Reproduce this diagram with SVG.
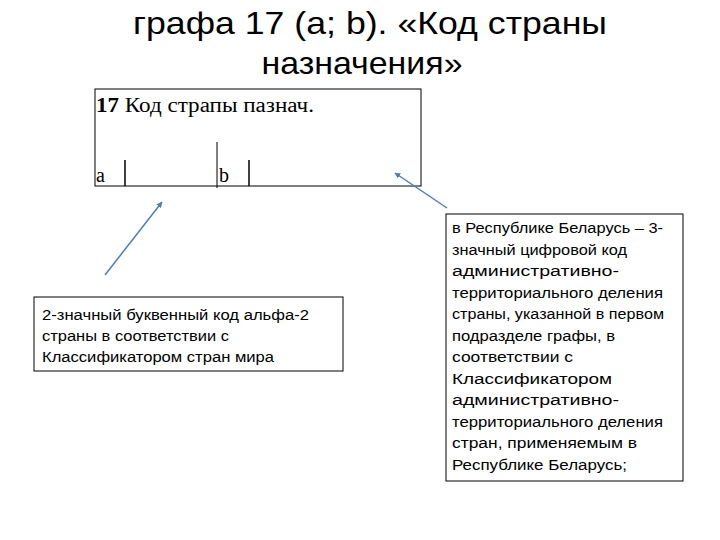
<svg xmlns="http://www.w3.org/2000/svg" width="720" height="540" viewBox="0 0 720 540">
<defs>
<style>
.title{font-family:"Liberation Sans","Noto Sans",sans-serif;font-size:32px;fill:#000;text-anchor:middle}
.note{font-family:"Liberation Sans","Noto Sans",sans-serif;font-size:15.5px;fill:#000}
.form{font-family:"Liberation Serif","DejaVu Serif",serif;font-size:20px;fill:#000}
.box{fill:#fff;stroke:#000;stroke-width:1}
.conn{stroke:#4a7ebb;stroke-width:1.5;fill:none;marker-end:url(#ah)}
</style>
<marker id="ah" viewBox="0 0 10 10" refX="9" refY="5" markerWidth="4" markerHeight="4" orient="auto" markerUnits="strokeWidth">
<path d="M0,0 L10,5 L0,10 z" fill="#4a7ebb"/>
</marker>
</defs>
<rect width="720" height="540" fill="#fff"/>
<g id="title">
<text class="title" x="370" y="34" textLength="474" lengthAdjust="spacingAndGlyphs">графа 17 (a; b). «Код страны</text>
<text class="title" x="362" y="74" textLength="201" lengthAdjust="spacingAndGlyphs">назначения»</text>
</g>
<g id="form">
<rect class="box" x="95" y="89" width="326" height="97"/>
<text class="form" x="96" y="112" textLength="218" lengthAdjust="spacingAndGlyphs"><tspan font-weight="bold">17</tspan> Код страпы пазнач.</text>
<line x1="217" y1="142" x2="217" y2="188" stroke="#000" stroke-width="1"/>
<line x1="125" y1="160" x2="125" y2="186" stroke="#000" stroke-width="1.5"/>
<line x1="249" y1="160" x2="249" y2="186" stroke="#000" stroke-width="1.5"/>
<text class="form" x="96" y="182" font-size="21">a</text>
<text class="form" x="219" y="182" font-size="21">b</text>
</g>
<g id="note-a">
<rect class="box" x="34" y="297" width="309" height="74"/>
<text class="note" x="42" y="320" textLength="267" lengthAdjust="spacingAndGlyphs">2-значный буквенный код альфа-2</text>
<text class="note" x="42" y="341" textLength="187" lengthAdjust="spacingAndGlyphs">страны в соответствии с</text>
<text class="note" x="42" y="362" textLength="232" lengthAdjust="spacingAndGlyphs">Классификатором стран мира</text>
</g>
<g id="note-b">
<rect class="box" x="446" y="214" width="237" height="267"/>
<g class="note">
<text x="452" y="233" textLength="211" lengthAdjust="spacingAndGlyphs">в Республике Беларусь – 3-</text>
<text x="452" y="254.5" textLength="175" lengthAdjust="spacingAndGlyphs">значный цифровой код</text>
<text x="452" y="276" textLength="167" lengthAdjust="spacingAndGlyphs">административно-</text>
<text x="452" y="297.5" textLength="211" lengthAdjust="spacingAndGlyphs">территориального деления</text>
<text x="452" y="319" textLength="212" lengthAdjust="spacingAndGlyphs">страны, указанной в первом</text>
<text x="452" y="340.5" textLength="163" lengthAdjust="spacingAndGlyphs">подразделе графы, в</text>
<text x="452" y="362" textLength="121" lengthAdjust="spacingAndGlyphs">соответствии с</text>
<text x="452" y="383.5" textLength="160" lengthAdjust="spacingAndGlyphs">Классификатором</text>
<text x="452" y="405" textLength="167" lengthAdjust="spacingAndGlyphs">административно-</text>
<text x="452" y="426.5" textLength="211" lengthAdjust="spacingAndGlyphs">территориального деления</text>
<text x="452" y="448" textLength="185" lengthAdjust="spacingAndGlyphs">стран, применяемым в</text>
<text x="452" y="469.5" textLength="175" lengthAdjust="spacingAndGlyphs">Республике Беларусь;</text>
</g>
</g>
<g id="connectors">
<line class="conn" x1="105" y1="275" x2="162" y2="202"/>
<line class="conn" x1="447" y1="208" x2="395" y2="173"/>
</g>
</svg>
